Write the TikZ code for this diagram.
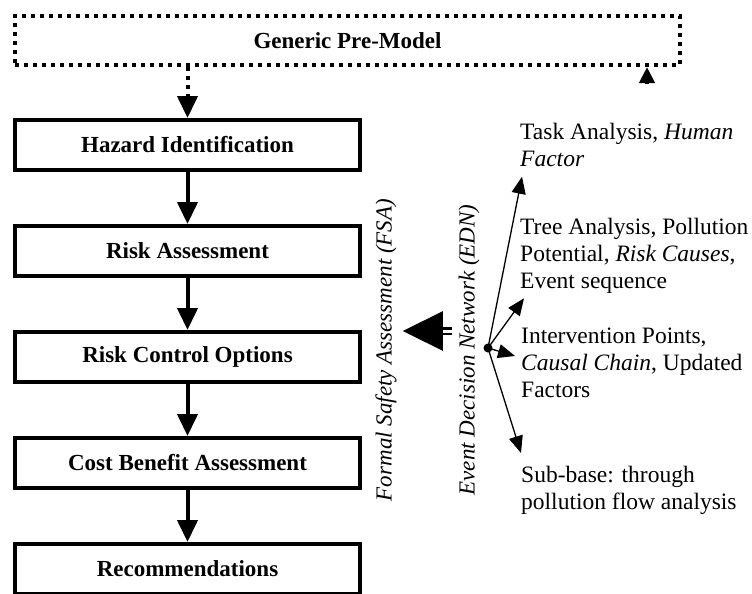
\documentclass[tikz,border=0pt]{standalone}
\usepackage{fontspec}
\setmainfont{Liberation Serif}
\usetikzlibrary{positioning, arrows.meta, calc}

\begin{document}
\begin{tikzpicture}[
    x=1pt, y=-1pt,
    stage/.style={draw, line width=4pt, minimum width=345pt, minimum height=50pt, align=center, font=\fontsize{23}{27}\selectfont\bfseries},
    premodel/.style={draw, line width=4pt, dash pattern=on 4pt off 5pt, minimum width=665pt, minimum height=49pt, font=\fontsize{23}{27}\selectfont\bfseries},
    note/.style={align=left, anchor=north west, inner sep=0pt, font=\fontsize{23.5}{26.8}\selectfont},
    vlabel/.style={rotate=90, inner sep=2pt, font=\fontsize{23}{27}\selectfont\itshape},
    arr/.style={-{Triangle[length=22pt, width=20pt]}, line width=4pt},
    dotarr/.style={arr, dash pattern=on 4pt off 5pt},
    thinarr/.style={-{Triangle[length=17pt, width=14pt]}, line width=1.3pt},
    bigarr/.style={-{Triangle[length=40pt, width=39pt]}, double, line width=2.5pt, double distance=3pt}
]
\useasboundingbox (0,0) rectangle (752,594);

% Pre-model
\node[premodel] (pre) at (347.5,40.5) {Generic Pre-Model};

% FSA steps
\node[stage] (haz) at (187.5,145) {Hazard Identification};
\node[stage, below=52pt of haz] (risk) {Risk Assessment};
\node[stage, below=52pt of risk] (rco) {Risk Control Options};
\node[stage, below=52pt of rco] (cba) {Cost Benefit Assessment};
\node[stage, below=52pt of cba] (rec) {Recommendations};

% Arrows between steps
\draw[dotarr] (pre.south -| haz.north) -- (haz.north);
\draw[arr] (haz) -- (risk);
\draw[arr] (risk) -- (rco);
\draw[arr] (rco) -- (cba);
\draw[arr] (cba) -- (rec);

% Feedback into pre-model
\coordinate (fb) at (647,84);
\draw[line width=4pt, -{Triangle[length=16pt, width=15pt]}] (fb) -- (fb |- pre.south);

% Vertical labels
\node[vlabel] (fsa) at (386,350) {Formal Safety Assessment (FSA)};
\node[vlabel] (edn) at (469,350) {Event Decision Network (EDN)};
\draw[bigarr] ($(edn.north)+(-4,-19)$) -- ($(fsa.south)+(4,-19)$);

% EDN outputs
\node[circle, fill, inner sep=0pt, minimum size=9pt] (hub) at (488,348) {};
\node[note] (task) at (520,123) {Task Analysis, \textit{Human}\\\textit{Factor}};
\node[note] (tree) at (520,218) {Tree Analysis, Pollution\\Potential, \textit{Risk Causes},\\Event sequence};
\node[note] (interv) at (521,328) {Intervention Points,\\\textit{Causal Chain}, Updated\\Factors};
\node[note] (subb) at (521,466) {Sub-base: through\\pollution flow analysis};

\draw[thinarr] (hub.center) -- ($(task.south west)+(2,10)$);
\draw[thinarr] (hub.center) -- ($(tree.south west)+(4,5)$);
\draw[thinarr] (hub.center) -- ($(interv.north west)+(-6,28)$);
\draw[thinarr] (hub.center) -- ($(subb.north west)+(0,-13)$);

\end{tikzpicture}
\end{document}
